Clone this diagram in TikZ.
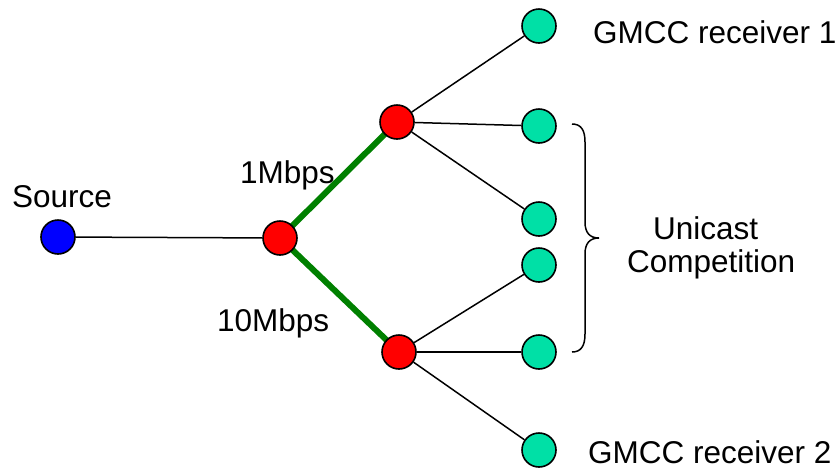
\documentclass[tikz,border=0pt]{standalone}
\usepackage{fontspec}
\setmainfont{Liberation Sans}
\begin{document}
\begin{tikzpicture}[x=1pt,y=-1pt,
  host/.style={circle,draw=black,line width=1.6pt,minimum size=34pt,inner sep=0pt},
  src/.style={host,fill=blue},
  router/.style={host,fill=red},
  recv/.style={host,fill={rgb,255:red,0;green,224;blue,166}},
  link/.style={draw=black,line width=1.5pt},
  fat/.style={draw={rgb,255:red,0;green,128;blue,0},line width=6pt},
  lbl/.style={inner sep=0pt,anchor=base west,font=\fontsize{31.5}{36}\selectfont}]
\useasboundingbox (0,0) rectangle (838,475);

% links first so nodes cover their ends
\coordinate (ps) at (58,237);
\coordinate (pr) at (280,238);
\coordinate (pu) at (397,122);
\coordinate (pd) at (399,352);
\draw[fat] (pr) -- (pu);
\draw[fat] (pr) -- (pd);

\node[src] (s) at (ps) {};
\node[router] (r) at (pr) {};
\node[router] (u) at (pu) {};
\node[router] (d) at (pd) {};
\node[recv] (g1) at (539,26) {};
\node[recv] (g2) at (539,126) {};
\node[recv] (g3) at (539,219) {};
\node[recv] (g4) at (539,265) {};
\node[recv] (g5) at (539,352) {};
\node[recv] (g6) at (539,450) {};

\draw[link] (s) -- (r);
\draw[link] (u) -- (g1);
\draw[link] (u) -- (g2);
\draw[link] (u) -- (g3);
\draw[link] (d) -- (g4);
\draw[link] (d) -- (g5);
\draw[link] (d) -- (g6);

% brace grouping the competing unicast receivers
\draw[line width=1.5pt] (572,124) .. controls (581,124) and (585,130) .. (585,142)
  -- (585,222) .. controls (585,233) and (590,238) .. (599,238)
  .. controls (590,238) and (585,243) .. (585,254)
  -- (585,334) .. controls (585,346) and (581,352) .. (572,352);

\node[lbl] (tsrc) at (12,207) {Source};
\node[lbl] (t1) at (240,183) {1Mbps};
\node[lbl] (t10) at (217,331) {10Mbps};
\node[lbl] (tg1) at (593,43) {GMCC receiver 1};
\node[lbl] (tg2) at (588,463) {GMCC receiver 2};
\node[lbl] (tu) at (653,239) {Unicast};
\node[lbl] (tc) at (627,272) {Competition};
\end{tikzpicture}
\end{document}
